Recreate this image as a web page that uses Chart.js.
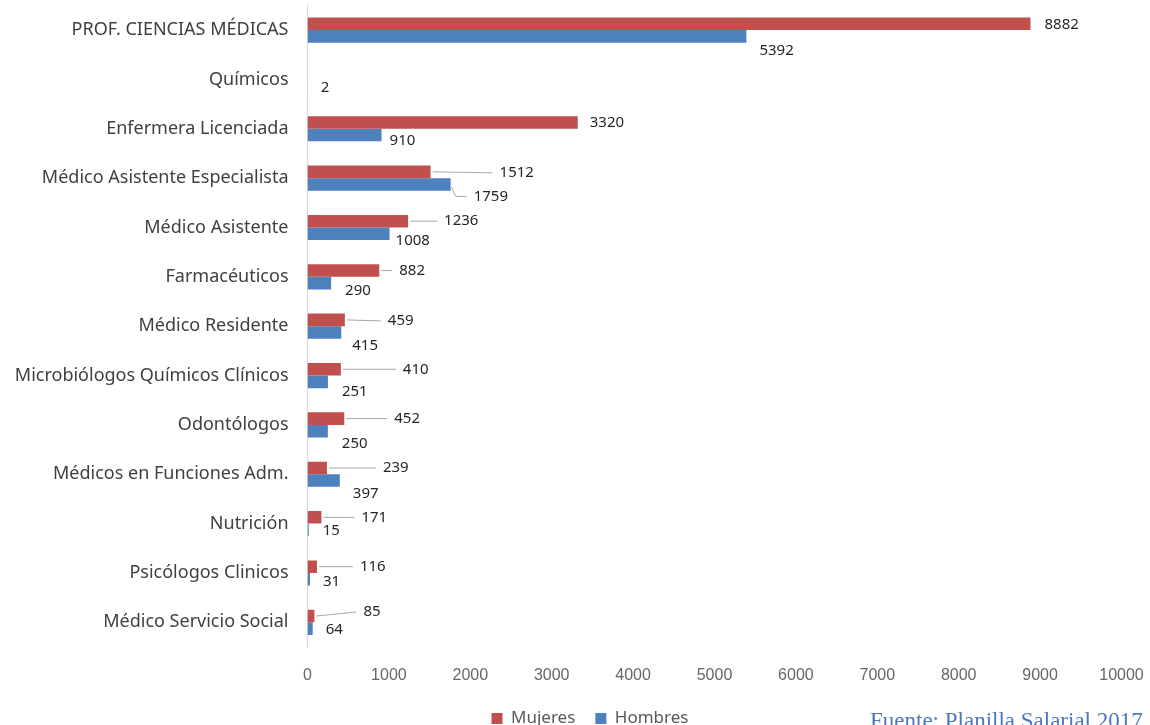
<!DOCTYPE html>
<html>
<head>
<meta charset="utf-8">
<script src="https://cdn.jsdelivr.net/npm/chart.js@4.4.1/dist/chart.umd.min.js"></script>
<style>
  html, body { margin: 0; padding: 0; background: #ffffff; overflow: hidden; }
  #wrap { position: relative; width: 1150px; height: 737px; }
</style>
</head>
<body>
<div id="wrap"><canvas id="chart"></canvas></div>
<script>
// ---- data ----
const categories = [
  'PROF. CIENCIAS MÉDICAS',
  'Químicos',
  'Enfermera Licenciada',
  'Médico Asistente Especialista',
  'Médico Asistente',
  'Farmacéuticos',
  'Médico Residente',
  'Microbiólogos Químicos Clínicos',
  'Odontólogos',
  'Médicos en Funciones Adm.',
  'Nutrición',
  'Psicólogos Clinicos',
  'Médico Servicio Social'
];
const mujeres = [8882, null, 3320, 1512, 1236, 882, 459, 410, 452, 239, 171, 116, 85];
const hombres = [5392, 2, 910, 1759, 1008, 290, 415, 251, 250, 397, 15, 31, 64];
const seriesNames = ['Mujeres', 'Hombres'];
const xTickValues = [0, 1000, 2000, 3000, 4000, 5000, 6000, 7000, 8000, 9000, 10000];
const sourceNote = 'Fuente: Planilla Salarial 2017';

// ---- label placement (px offsets from bar end / bar centre) ----
const mujeresLabelDx = [14, 0, 12, 69, 36, 20, 43, 62, 50, 56, 40, 43, 49];
const mujeresLabelDy = [1, 0, 0, 1, 0, 0, 1, 0, 0, 0, 0, 0, -4];
const hombresLabelDx = [13, 13, 8, 23, 6, 14, 11, 14, 14, 13, 14, 13, 13];
const hombresLabelDy = [14, 2, 6, 12, 7, 8, 13, 10, 13, 13, 1, 2, 1];

const RED = '#C0504D';
const BLUE = '#4F81BD';

const valueLabels = {
  id: 'valueLabels',
  afterLayout(chart) {
    // centre the legend under the plot as in the reference
    const lg = chart.legend;
    if (lg) {
      const d = 590 - (lg.left + lg.right) / 2;
      lg.left += d; lg.right += d;
    }
  },
  afterDatasetsDraw(chart) {
    const ctx = chart.ctx;
    const xs = chart.scales.x;
    ctx.save();
    ctx.font = '15px "Noto Sans"';
    ctx.fillStyle = '#262626';
    ctx.textAlign = 'left';
    ctx.textBaseline = 'middle';
    ctx.strokeStyle = '#a6a6a6';
    ctx.lineWidth = 1;
    chart.data.datasets.forEach((ds, di) => {
      const meta = chart.getDatasetMeta(di);
      const dxs = di === 0 ? mujeresLabelDx : hombresLabelDx;
      const dys = di === 0 ? mujeresLabelDy : hombresLabelDy;
      meta.data.forEach((bar, i) => {
        const v = ds.data[i];
        if (v === null || v === undefined) return;
        const end = xs.getPixelForValue(v);
        const cy = bar.y;
        const lx = end + dxs[i];
        const ly = cy + dys[i];
        if (dxs[i] > 18) {
          ctx.beginPath();
          if (di === 0) {
            ctx.moveTo(end + 2, cy);
            ctx.lineTo(lx - 7, ly);
          } else {
            ctx.moveTo(end + 1, cy + 3);
            ctx.lineTo(end + 5, ly);
            ctx.lineTo(lx - 7, ly);
          }
          ctx.stroke();
        }
        ctx.fillText(String(v), lx, ly);
      });
    });
    ctx.restore();
  },
  afterDraw(chart) {
    const ctx = chart.ctx;
    ctx.save();
    ctx.font = '23px "Liberation Serif"';
    ctx.fillStyle = '#4F77BE';
    ctx.textAlign = 'left';
    ctx.textBaseline = 'alphabetic';
    ctx.fillText(sourceNote, 870, 728);
    ctx.restore();
  }
};

Chart.defaults.font.family = '"Noto Sans", "Liberation Sans", sans-serif';

new Chart(document.getElementById('chart'), {
  type: 'bar',
  data: {
    labels: categories,
    datasets: [
      { label: seriesNames[0], data: mujeres, backgroundColor: RED, borderWidth: 0,
        categoryPercentage: 0.51, barPercentage: 1.0 },
      { label: seriesNames[1], data: hombres, backgroundColor: BLUE, borderWidth: 0,
        categoryPercentage: 0.51, barPercentage: 1.0 }
    ]
  },
  options: {
    indexAxis: 'y',
    responsive: true,
    maintainAspectRatio: false,
    animation: false,
    layout: { padding: { top: 5.4, right: 28.5, left: 0, bottom: 0 } },
    plugins: {
      legend: {
        position: 'bottom',
        labels: {
          boxWidth: 11, boxHeight: 11, padding: 20,
          color: '#595959',
          font: { size: 17, family: '"Noto Sans", sans-serif' }
        }
      },
      tooltip: { enabled: false }
    },
    scales: {
      x: {
        min: 0, max: 10000,
        grid: { display: false, drawTicks: false },
        border: { display: false },
        afterBuildTicks(s) { s.ticks = xTickValues.map(v => ({ value: v })); },
        ticks: {
          color: '#666666', padding: 19,
          font: { size: 16, family: '"Liberation Sans", sans-serif' },
          callback: (v) => String(v)
        },
        afterFit(s) { s.height = 43; s.paddingLeft = 0; s.paddingRight = 0; }
      },
      y: {
        grid: { display: false, drawTicks: false },
        border: { display: true, color: '#d9d9d9', width: 1 },
        ticks: { color: '#404040', padding: 19, font: { size: 18 } },
        afterFit(s) { s.width = 307.5; s.paddingTop = 0; s.paddingBottom = 0; }
      }
    }
  },
  plugins: [valueLabels]
});
</script>
</body>
</html>
